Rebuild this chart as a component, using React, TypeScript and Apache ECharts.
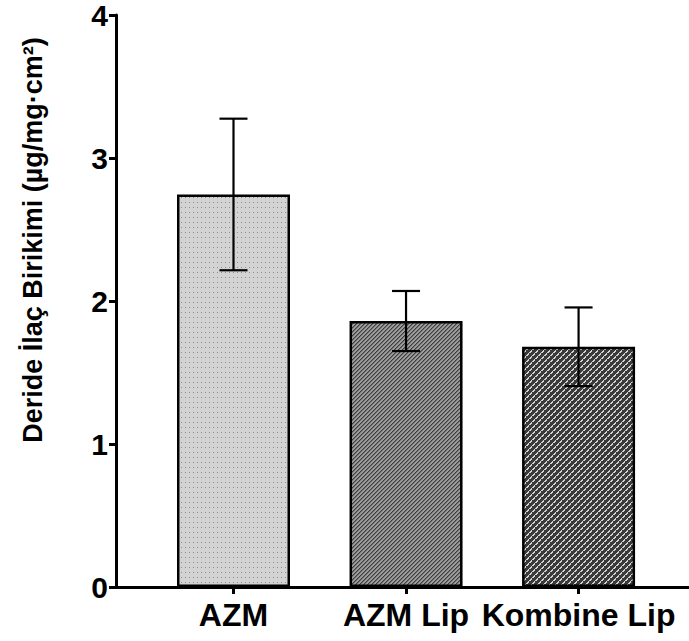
import React, { useEffect, useRef } from "react";
import * as echarts from "echarts";

const categories = ["AZM", "AZM Lip", "Kombine Lip"];
const means = [2.745, 1.86, 1.68];
const sds = [0.53, 0.21, 0.275];
const yTicks = [0, 1, 2, 3, 4];

const FONT = "'Liberation Sans', Arial, Helvetica, sans-serif";

function makeTile(w: number, h: number, draw: (ctx: CanvasRenderingContext2D) => void) {
  const c = document.createElement("canvas");
  c.width = w;
  c.height = h;
  const ctx = c.getContext("2d")!;
  draw(ctx);
  return c;
}

// dotted fill
const dotTile = () =>
  makeTile(4, 5, (ctx) => {
    ctx.fillStyle = "#d3d3d3";
    ctx.fillRect(0, 0, 4, 5);
    ctx.fillStyle = "#8e8e8e";
    ctx.fillRect(1, 2, 1, 1);
  });

// diagonal hatch fill
const hatchTile = () =>
  makeTile(4, 4, (ctx) => {
    ctx.fillStyle = "#9c9c9c";
    ctx.fillRect(0, 0, 4, 4);
    for (let i = 0; i < 4; i++) {
      ctx.fillStyle = "#3c3c3c";
      ctx.fillRect((3 - i + 4) % 4, i, 1, 1);
      ctx.fillStyle = "#707070";
      ctx.fillRect((4 - i + 4) % 4, i, 1, 1);
    }
  });

// staircase weave fill
const weaveTile = () =>
  makeTile(6, 6, (ctx) => {
    ctx.fillStyle = "#3a3a3a";
    ctx.fillRect(0, 0, 6, 6);
    ctx.fillStyle = "#d2d2d2";
    for (let i = 0; i < 6; i++) {
      const x = (5 - i + 6) % 6;
      ctx.fillRect(x, i, 1, 1);
      if (i % 3 !== 2) ctx.fillRect((x + 1) % 6, i, 1, 1);
    }
  });

export default function App() {
  const ref = useRef<HTMLDivElement>(null);

  useEffect(() => {
    if (!ref.current) return;
    const chart = echarts.init(ref.current, undefined, { renderer: "svg" });
    const tiles = [dotTile(), hatchTile(), weaveTile()];
    const positions = categories.map((_, i) => i + 1);

    chart.setOption({
      animation: false,
      grid: { left: 116, right: 0, top: 13, bottom: 54, containLabel: false },
      xAxis: {
        type: "value",
        min: 0.319,
        max: 3.64,
        splitLine: { show: false },
        axisLine: { show: true, lineStyle: { color: "#000", width: 3 } },
        axisTick: {
          show: true,
          customValues: positions,
          length: 7,
          lineStyle: { color: "#000", width: 3 },
        },
        axisLabel: {
          customValues: positions,
          formatter: (v: number) => categories[Math.round(v) - 1] ?? "",
          color: "#000",
          fontFamily: FONT,
          fontWeight: "bold",
          fontSize: 32,
          margin: 12,
        },
      },
      yAxis: {
        type: "value",
        min: yTicks[0],
        max: yTicks[yTicks.length - 1],
        interval: 1,
        splitLine: { show: false },
        axisLine: { show: true, lineStyle: { color: "#000", width: 3 } },
        axisTick: { show: true, length: 7, lineStyle: { color: "#000", width: 3 } },
        axisLabel: {
          color: "#000",
          fontFamily: FONT,
          fontWeight: "bold",
          fontSize: 30,
          margin: 8,
        },
      },
      graphic: [
        {
          type: "text",
          x: 33,
          y: 240,
          rotation: Math.PI / 2,
          style: {
            text: "Deride İlaç Birikimi (µg/mg·cm²)",
            fill: "#000",
            font: `bold 27px ${FONT}`,
            align: "center",
            verticalAlign: "middle",
          },
        },
      ],
      series: [
        {
          type: "bar",
          barWidth: 113,
          data: means.map((m, i) => ({
            value: [positions[i], m],
            itemStyle: {
              color: { image: tiles[i], repeat: "repeat" },
              borderColor: "#000",
              borderWidth: 2.5,
            },
          })),
        },
        {
          type: "custom",
          data: means.map((m, i) => [positions[i], m - sds[i], m + sds[i]]),
          z: 10,
          renderItem: (_params: any, api: any) => {
            const x = api.value(0);
            const lo = api.coord([x, api.value(1)]);
            const hi = api.coord([x, api.value(2)]);
            const half = 14;
            const style = { stroke: "#000", lineWidth: 2.2 };
            return {
              type: "group",
              children: [
                { type: "line", shape: { x1: lo[0], y1: lo[1], x2: hi[0], y2: hi[1] }, style },
                { type: "line", shape: { x1: hi[0] - half, y1: hi[1], x2: hi[0] + half, y2: hi[1] }, style },
                { type: "line", shape: { x1: lo[0] - half, y1: lo[1], x2: lo[0] + half, y2: lo[1] }, style },
              ],
            };
          },
        },
      ],
    });
    return () => chart.dispose();
  }, []);

  return (
    <div
      ref={ref}
      style={{ position: "absolute", left: 0, top: 0, width: 689, height: 641, background: "#fff" }}
    />
  );
}
